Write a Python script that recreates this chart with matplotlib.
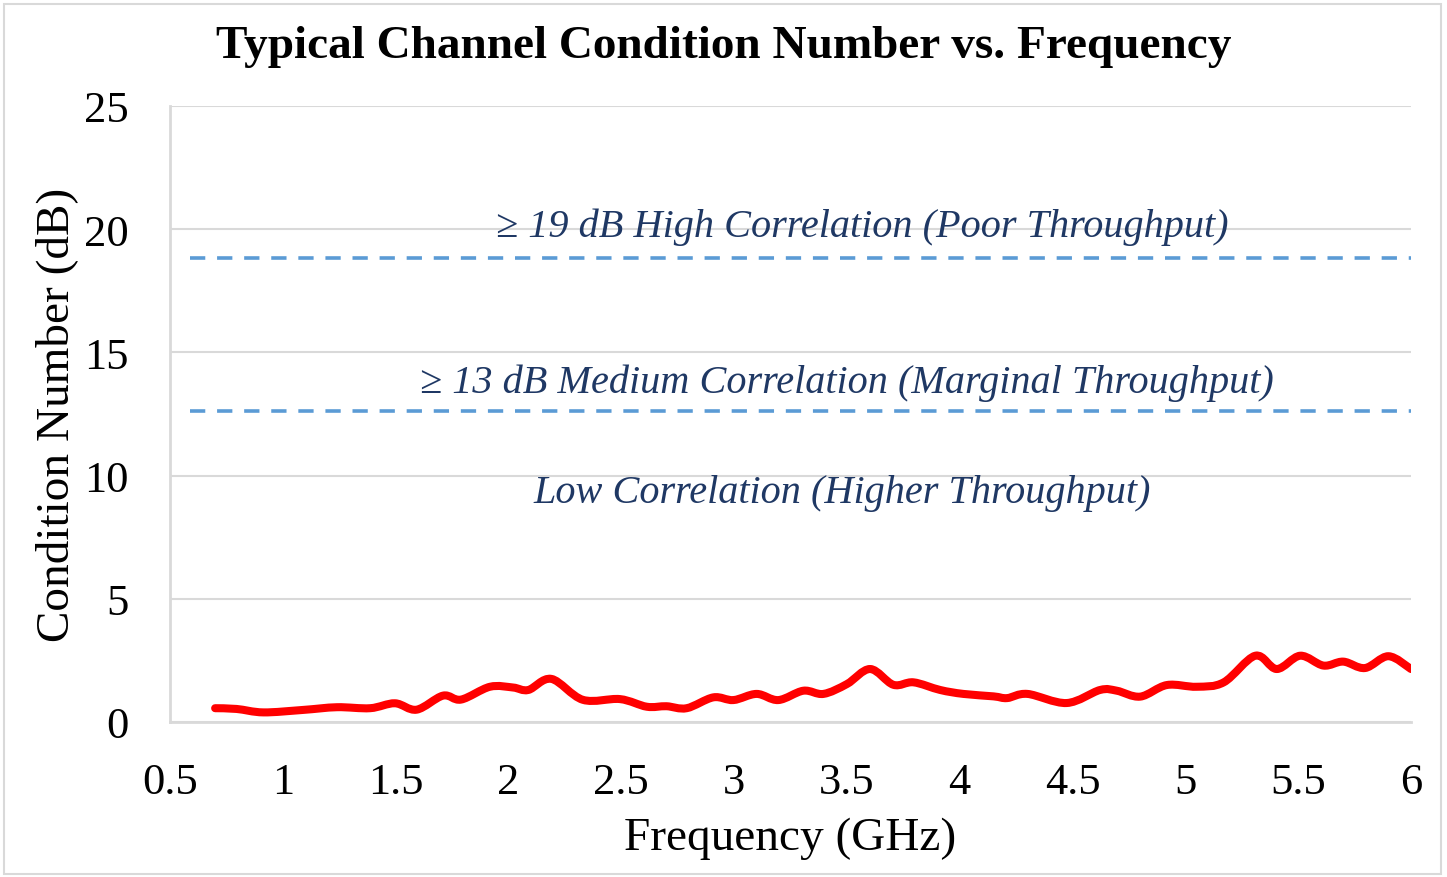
import matplotlib
matplotlib.use("Agg")
import matplotlib.pyplot as plt
import numpy as np
from matplotlib.patches import Rectangle, PathPatch
from matplotlib.path import Path

freq = [0.70, 0.795, 0.914, 1.09, 1.24, 1.387, 1.497, 1.593, 1.71, 1.79, 1.918, 2.02, 2.088, 2.19,
        2.33, 2.494, 2.613, 2.70, 2.79, 2.908, 2.997, 3.10, 3.196, 3.307, 3.396, 3.50, 3.603,
        3.706, 3.795, 3.913, 4.016, 4.15, 4.21, 4.30, 4.474, 4.622, 4.696, 4.80, 4.918, 5.05,
        5.17, 5.31, 5.405, 5.509, 5.612, 5.70, 5.796, 5.90, 6.00]
cond = [0.56, 0.53, 0.39, 0.49, 0.60, 0.56, 0.76, 0.50, 1.07, 0.91, 1.43, 1.40, 1.30, 1.75,
        0.90, 0.93, 0.62, 0.64, 0.56, 1.00, 0.89, 1.14, 0.89, 1.27, 1.14, 1.54, 2.15,
        1.51, 1.61, 1.30, 1.14, 1.04, 0.97, 1.14, 0.77, 1.30, 1.27, 1.03, 1.50, 1.43,
        1.61, 2.69, 2.15, 2.69, 2.29, 2.45, 2.19, 2.67, 2.15]

thresholds = [18.83, 12.63]
thresh_x = [0.59, 6.0]
labels = ["\u2265 19 dB High Correlation (Poor Throughput)",
          "\u2265 13 dB Medium Correlation (Marginal Throughput)",
          "Low Correlation (Higher Throughput)"]
label_x = [3.57, 3.50, 3.48]
label_y = [20.1, 13.8, 9.3]

xticks = [0.5, 1, 1.5, 2, 2.5, 3, 3.5, 4, 4.5, 5, 5.5, 6]
xticklabels = ["0.5", "1", "1.5", "2", "2.5", "3", "3.5", "4", "4.5", "5", "5.5", "6"]
yticks = [0, 5, 10, 15, 20, 25]

plt.rcParams['font.family'] = ['Liberation Serif', 'DejaVu Serif']
plt.rcParams['lines.scale_dashes'] = False

fig = plt.figure(figsize=(14.47, 8.78), dpi=100)
ax = fig.add_axes([170/1447, 1-723/878, (1411-170)/1447, (723-107)/878])

fig.patches.append(Rectangle((4/1447, 3/878), (1441-4)/1447, (873-3)/878, transform=fig.transFigure,
                             fill=False, edgecolor='#D9D9D9', linewidth=1.5))

ax.set_xlim(0.5, 6)
ax.set_ylim(0, 25)
ax.set_xticks(xticks)
ax.set_xticklabels(xticklabels)
ax.set_yticks(yticks)
ax.tick_params(axis='both', length=0, labelsize=32, colors='black')
ax.tick_params(axis='x', pad=29)
ax.tick_params(axis='y', pad=30)
ax.grid(axis='y', color='#D9D9D9', linewidth=1.5)
ax.set_axisbelow(True)
for s in ['top', 'right']:
    ax.spines[s].set_visible(False)
for s in ['left', 'bottom']:
    ax.spines[s].set_color('#D9D9D9')
    ax.spines[s].set_linewidth(2)

for t in thresholds:
    ax.plot(thresh_x, [t, t], color='#5B9BD5', linewidth=2.6, dashes=(11, 8.5), clip_on=False)

# smoothed line (Catmull-Rom -> cubic Bezier) through the data points
P = np.column_stack([freq, cond])
verts = [tuple(P[0])]
codes = [Path.MOVETO]
n = len(P)
for i in range(n - 1):
    p0 = P[i - 1] if i > 0 else P[i]
    p1, p2 = P[i], P[i + 1]
    p3 = P[i + 2] if i + 2 < n else P[i + 1]
    c1 = p1 + (p2 - p0) / 6.0
    c2 = p2 - (p3 - p1) / 6.0
    verts += [tuple(c1), tuple(c2), tuple(p2)]
    codes += [Path.CURVE4] * 3
patch = PathPatch(Path(verts, codes), facecolor='none', edgecolor='#FF0000', linewidth=5.8,
                  capstyle='round', joinstyle='round')
ax.add_patch(patch)

for s, x, y in zip(labels, label_x, label_y):
    ax.text(x, y, s, ha='center', va='center', fontsize=29, style='italic', color='#1F3864')

ax.set_xlabel("Frequency (GHz)", fontsize=34, labelpad=10)
ax.set_ylabel("Condition Number (dB)", fontsize=34, labelpad=4)
fig.text(0.5 * (220 + 1228) / 1447, 1 - 47/878, "Typical Channel Condition Number vs. Frequency",
         ha='center', va='center', fontsize=34, fontweight='bold')

fig.savefig("out.png", dpi=100)
